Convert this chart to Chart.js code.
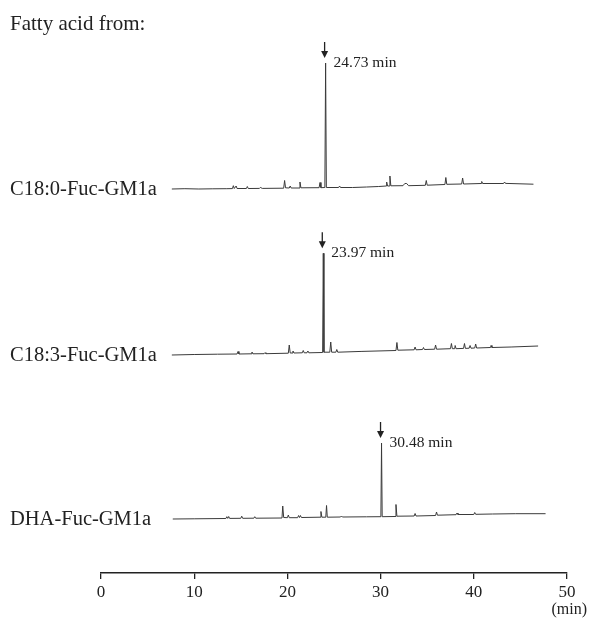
<!DOCTYPE html>
<html><head><meta charset="utf-8">
<script src="https://cdn.jsdelivr.net/npm/chart.js@4/dist/chart.umd.min.js"></script>
<style>html,body{margin:0;padding:0;background:#fff}#wrap{width:590px;height:621px;position:relative}</style>
</head><body><div id="wrap"><canvas id="c"></canvas></div>
<script>
// ---- data (retention time in min, detector signal in arbitrary units) ----
const tickValues = [0, 10, 20, 30, 40, 50];
const axisUnit = '(min)';
const heading = 'Fatty acid from:';
const sampleNames = ['C18:0-Fuc-GM1a', 'C18:3-Fuc-GM1a', 'DHA-Fuc-GM1a'];
const peakLabels = ['24.73 min', '23.97 min', '30.48 min'];

const times1  = [7.6,9.0,10.5,12.0,13.5,14.1,14.2,14.3,14.5,14.6,15.6,15.7,15.8,17.0,17.1,17.3,19.6,19.7,19.8,20.2,20.3,20.4,21.25,21.35,21.45,23.4,23.5,23.6,24.02,24.1,24.18,25.5,25.6,25.7,27.0,28.5,29.8,30.6,30.65,30.75,30.95,31.0,31.1,32.4,32.6,32.8,33.0,34.8,34.9,35.0,36.9,37.0,37.1,38.7,38.8,38.9,40.8,40.85,40.95,43.2,43.3,43.4,46.4];
const signal1 = [0,0.3,0,0.2,0.3,0.4,3.3,0.5,3,0.5,0.5,2.5,0.5,0.6,1.6,0.6,0.8,8.5,1.2,1,3,1,1,7,1.2,1.3,6.5,1.3,1.5,126,1.5,1.5,3,1.5,1.5,2,2.5,3,7,3,3,13,3.2,3.3,5.5,5.5,3.3,3.7,8.5,3.8,4.5,11.5,4.7,5,11,5,5.5,7.5,5.5,5.5,7,5.6,4.8];

const times2  = [7.6,10,12.5,14.6,14.7,14.8,16.1,16.2,16.3,17.5,17.6,17.7,20.1,20.2,20.3,20.5,20.6,20.7,21.6,21.7,21.8,22.1,22.2,22.3,23.78,23.85,23.92,24.55,24.65,24.75,25.2,25.3,25.4,28.0,31.65,31.75,31.85,33.6,33.7,33.8,34.5,34.6,34.7,35.8,35.9,36.0,37.5,37.6,37.7,37.95,38.0,38.1,38.9,39.0,39.1,39.5,39.6,39.7,40.1,40.2,40.3,41.8,41.85,41.95,44.0,46.9];
const signal2 = [0,0.5,0.8,1,3.5,1,1.2,3,1.2,1.3,2.3,1.3,1.8,10,2,2,4,2,2.2,4.5,2.2,2.2,4,2.2,2.5,101.7,2.8,2.8,13,2.8,2.8,5.5,2.8,3.6,4.5,12.5,4.8,5.2,8,5.2,5.5,7.5,5.5,5.8,10,5.8,6.3,11.5,6.3,6.3,9.5,6.3,6.6,11.5,6.6,6.8,9.5,6.8,7,11,7,7.5,9.5,7.5,8,9];

const times3  = [7.7,10,13.4,13.5,13.6,13.7,13.8,15.0,15.1,15.2,16.4,16.5,16.6,19.42,19.5,19.6,20.0,20.1,20.2,21.1,21.2,21.3,21.4,21.5,23.5,23.6,23.7,24.12,24.2,24.28,25.7,25.8,25.9,28.5,30.03,30.1,30.17,31.55,31.65,31.75,33.6,33.7,33.8,35.9,36.0,36.1,38.1,38.2,38.3,40.0,40.1,40.2,42.0,44.5,47.7];
const signal3 = [0,0.2,0.5,2.3,0.6,2.5,0.6,0.7,2.8,0.7,0.8,2.3,0.8,1,13,1.5,1.3,4,1.3,1.3,3.5,1.5,3.5,1.5,1.8,7.5,1.8,1.8,13.5,1.8,2,3,2,2.2,2.3,76,2.3,2.5,14.5,2.8,3,5.5,3,3.5,7,3.8,4.3,6,4.5,4.5,6.5,4.7,5,5.3,5.3];

// vertical stacking of the three chromatograms (signal units)
const traceOffsets = [384, 218, 54];

const traces = [[times1, signal1], [times2, signal2], [times3, signal3]];
const datasets = traces.map(([t, s], i) => ({
  label: sampleNames[i],
  data: t.map((v, k) => ({ x: v, y: s[k] + traceOffsets[i] })),
  borderColor: '#3a3a3a', borderWidth: 1, pointRadius: 0, tension: 0, fill: false
}));

const serif = '"Liberation Serif", "Times New Roman", serif';

const annot = {
  id: 'annot',
  afterDraw(chart) {
    const { ctx, scales: { x, y } } = chart;
    ctx.save();
    ctx.fillStyle = '#222';
    ctx.strokeStyle = '#222';
    ctx.textBaseline = 'alphabetic';
    ctx.font = '21px ' + serif;
    ctx.textAlign = 'left';
    ctx.fillText(heading, 10, 30);
    traces.forEach(([t, s], i) => {
      const base = y.getPixelForValue(traceOffsets[i]);
      ctx.font = '20.5px ' + serif;
      ctx.fillText(sampleNames[i], 10, base + 6);
      let k = 0; s.forEach((v, j) => { if (v > s[k]) k = j; });
      const px = x.getPixelForValue(t[k]);
      const py = y.getPixelForValue(s[k] + traceOffsets[i]);
      // arrow
      ctx.lineWidth = 1.3;
      ctx.beginPath(); ctx.moveTo(px - 1, py - 21); ctx.lineTo(px - 1, py - 10); ctx.stroke();
      ctx.beginPath(); ctx.moveTo(px - 4.5, py - 12); ctx.lineTo(px + 2.5, py - 12); ctx.lineTo(px - 1, py - 5); ctx.closePath(); ctx.fill();
      ctx.font = '15.5px ' + serif;
      ctx.fillText(peakLabels[i], px + 8, py + 4);
    });
    ctx.font = '16px ' + serif;
    ctx.textAlign = 'right';
    ctx.fillText(axisUnit, 587, 614);
    ctx.restore();
  }
};

new Chart(document.getElementById('c'), {
  type: 'line',
  data: { datasets },
  options: {
    responsive: true, maintainAspectRatio: false, animation: false,
    layout: { padding: { left: 101, right: 23, top: 40, bottom: 0 } },
    plugins: { legend: { display: false }, tooltip: { enabled: false } },
    scales: {
      x: {
        type: 'linear', min: 0, max: 50,
        afterBuildTicks(sc) { sc.ticks = tickValues.map(v => ({ value: v })); },
        afterFit(sc) { sc.height = 48; },
        border: { display: true, color: '#222', width: 1.5 },
        grid: { drawOnChartArea: false, drawTicks: true, tickLength: 6, color: '#222', lineWidth: 1.3 },
        ticks: { color: '#222', font: { family: serif, size: 17 }, padding: 3, maxRotation: 0 }
      },
      y: { display: false, min: 0, max: 533 }
    }
  },
  plugins: [annot]
});
</script></body></html>
